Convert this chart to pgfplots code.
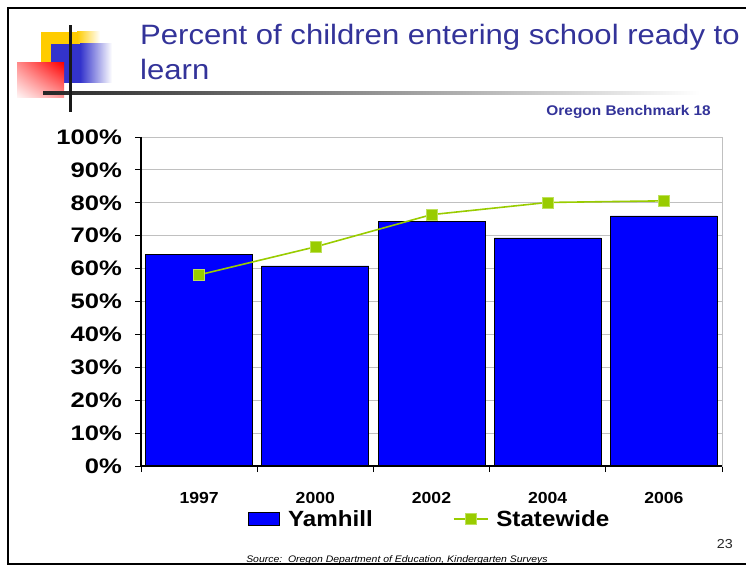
\documentclass[border=0pt]{standalone}
\usepackage{fontspec}
\setmainfont{Liberation Sans}
\newfontfamily\chartfont{Liberation Sans}[FakeStretch=1.1]
\newfontfamily\ylabfont{Liberation Sans}[FakeStretch=1.22]
\newfontfamily\titlefont{Liberation Sans}[FakeStretch=1.11]
\usepackage{pgfplots}
\pgfplotsset{compat=1.18}
\usetikzlibrary{shadings}
\definecolor{titleblue}{RGB}{51,51,153}
\definecolor{barblue}{RGB}{0,0,255}
\definecolor{sgreen}{RGB}{153,204,0}
\definecolor{sgreenedge}{RGB}{190,225,90}
\definecolor{gridgray}{RGB}{192,192,192}
\definecolor{logoyellow}{RGB}{255,204,0}
\definecolor{logoblue}{RGB}{51,51,204}
\newcommand\ylabf{\ylabfont\bfseries\fontsize{21bp}{24bp}\selectfont}
\newcommand\xlabf{\chartfont\bfseries\fontsize{16bp}{19bp}\selectfont}
\newcommand\legf{\chartfont\bfseries\fontsize{22bp}{26bp}\selectfont}
\begin{document}
\begin{tikzpicture}[x=1bp,y=1bp]
\path[use as bounding box] (0bp,0bp) rectangle (746bp,566bp);
% slide frame
\draw[line width=2bp] (747,2) -- (8,2) -- (8,558) -- (747,558);
% logo
\fill[logoyellow] (41,503) rectangle (77,534);
\shade[left color=logoyellow, right color=white] (77,503) rectangle (100,534);
\fill[logoblue] (51,483) rectangle (80,522);
\shade[left color=logoblue, right color=white] (80,483) rectangle (112,522);
\shade[upper right=red, upper left=red!45!white, lower right=red!40!white, lower left=red!3!white] (17,468) rectangle (64,503);
\shade[left color=black!85, right color=white] (43,471.2) rectangle (700,474.8);
\fill[black!90] (69,454) rectangle (72,541);
% title
\node[anchor=base west, inner sep=0pt, text=titleblue, font=\titlefont\fontsize{28bp}{34bp}\selectfont] at (140,521) {Percent of children entering school ready to};
\node[anchor=base west, inner sep=0pt, text=titleblue, font=\titlefont\fontsize{28bp}{34bp}\selectfont] at (140,486) {learn};
\node[anchor=base east, inner sep=0pt, text=titleblue, font=\chartfont\bfseries\fontsize{14bp}{17bp}\selectfont] at (711,450) {Oregon Benchmark 18};
\node[anchor=base east, inner sep=0pt, text=black!85, font=\chartfont\fontsize{13bp}{16bp}\selectfont] at (733,18) {23};
\node[anchor=base, inner sep=0pt, font=\chartfont\itshape\fontsize{9.5bp}{11bp}\selectfont] at (397,4) {Source:\ \ Oregon Department of Education, Kindergarten Surveys};
\begin{axis}[
  at={(141bp,100bp)}, anchor=south west,
  scale only axis, width=581bp, height=329bp,
  xmin=-0.5, xmax=4.5, ymin=0, ymax=100,
  clip=false,
  axis line style={draw=gridgray, line width=0.8bp},
  ymajorgrids, grid style={draw=gridgray, line width=0.9bp},
  xtick={0,1,2,3,4},
  xticklabels={1997,2000,2002,2004,2006},
  minor xtick={-0.5,0.5,1.5,2.5,3.5,4.5},
  ytick={0,10,20,30,40,50,60,70,80,90,100},
  yticklabels={0\%,10\%,20\%,30\%,40\%,50\%,60\%,70\%,80\%,90\%,100\%},
  tick pos=left, tick align=outside,
  major tick length=6bp, minor tick length=6bp,
  major x tick style={draw=none},
  minor x tick style={draw=black, line width=0.8bp},
  y tick style={draw=black, line width=0.8bp},
  xticklabel style={font=\xlabf, anchor=base, inner sep=0pt, yshift=-31bp},
  yticklabel style={font=\ylabf, anchor=east, inner sep=0pt, xshift=-13bp},
  legend columns=2,
  legend style={at={(0.497,-0.161)}, anchor=center, draw=none, fill=none,
    font=\legf, inner sep=0pt,
    /tikz/every odd column/.append style={column sep=6bp},
    /tikz/every even column/.append style={column sep=78bp}},
]
\addplot[ybar, bar width=0.92, fill=barblue, draw=black, line width=0.8bp,
  legend image code/.code={\draw[fill=barblue, draw=black, line width=0.8bp] (0bp,-6.5bp) rectangle (31bp,6.5bp);}]
  coordinates {(0,64.2) (1,60.8) (2,74.3) (3,69.3) (4,76.0)};
\addlegendentry{Yamhill}
\addplot[sharp plot, color=sgreen, line width=1.6bp, mark=square*, mark size=5.5bp,
  mark options={fill=sgreen, draw=sgreenedge, line width=0.6bp},
  legend image code/.code={\draw[sgreen, line width=1.6bp, mark=square*, mark size=5.5bp, mark options={fill=sgreen, draw=sgreenedge, line width=0.6bp}, mark repeat=2, mark phase=2] plot coordinates {(0bp,0bp) (17bp,0bp) (34bp,0bp)};}]
  coordinates {(0,58.1) (1,66.6) (2,76.4) (3,80.1) (4,80.6)};
\addlegendentry{Statewide}
\draw[black, line width=1.2bp] (rel axis cs:0,1) -- (rel axis cs:0,0) -- (rel axis cs:1,0);
\end{axis}
\end{tikzpicture}
\end{document}
